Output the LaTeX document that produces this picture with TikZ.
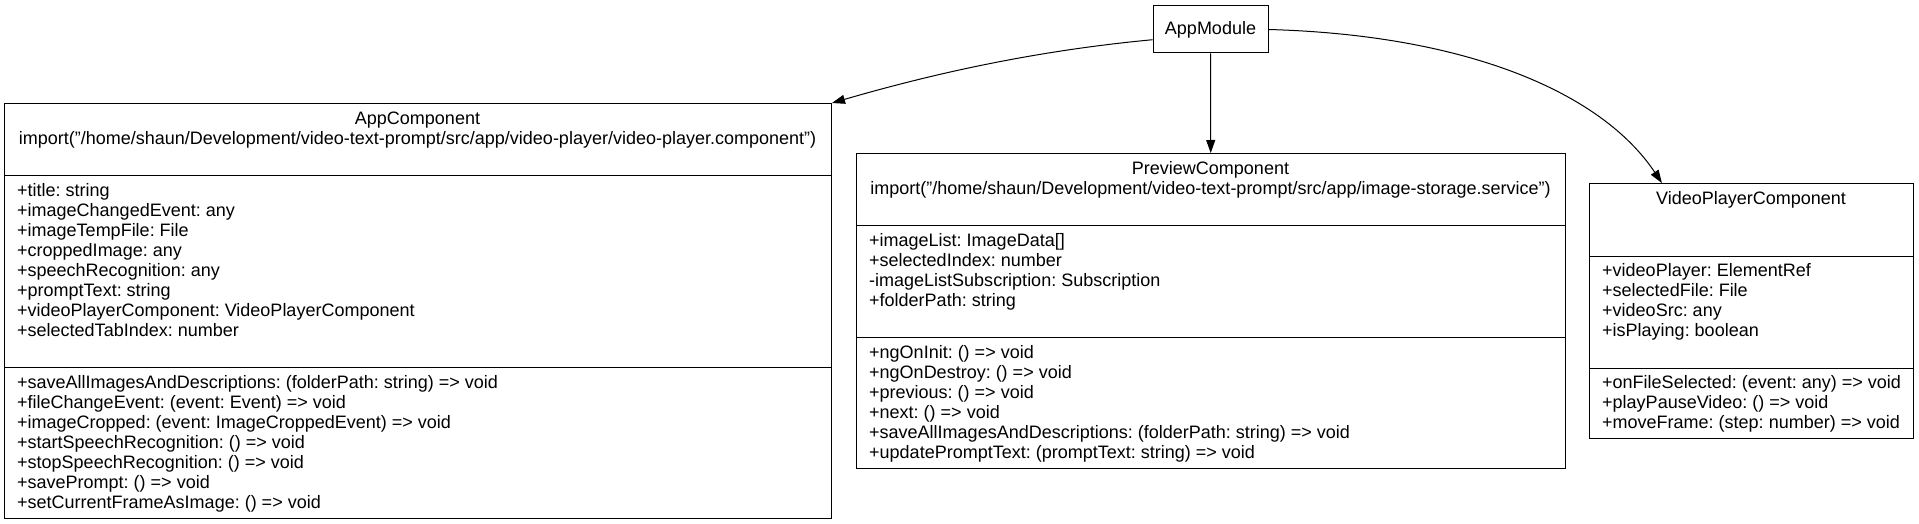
\documentclass[tikz,border=0pt]{standalone}
\usepackage{fontspec}
\setmainfont{Liberation Sans}
\usetikzlibrary{arrows.meta}
\frenchspacing

\tikzset{
  classbox/.style={draw, line width=1pt, anchor=north west, inner sep=0pt},
  header/.style={anchor=north, align=center, inner sep=0pt},
  member/.style={anchor=north west, align=left, inner sep=0pt},
  dep/.style={-{Triangle[length=13pt,width=9pt]}, line width=1pt},
}

\begin{document}
\begin{tikzpicture}[x=1pt, y=-1pt, font=\fontsize{18}{20}\selectfont]
\path[use as bounding box, fill=white] (0,0) rectangle (1919,524);

\node[draw, line width=1pt, minimum width=115pt, minimum height=47pt, inner sep=0pt] (mod) at (1210.5,29.5) {AppModule};

% AppComponent
\node[classbox, minimum width=827pt, minimum height=415pt] (app) at (4,103) {};
\draw[line width=1pt] (4,175) -- (831,175);
\draw[line width=1pt] (4,367) -- (831,367);
\node[header] (appT) at (417.5,110) {\strut AppComponent\\import("/home/shaun/Development/video-text-prompt/src/app/video-player/video-player.component")};
\node[member] (appA) at (17,182) {\strut +title: string\\+imageChangedEvent: any\\+imageTempFile: File\\+croppedImage: any\\+speechRecognition: any\\+promptText: string\\+videoPlayerComponent: VideoPlayerComponent\\+selectedTabIndex: number};
\node[member] (appM) at (17,374) {\strut +saveAllImagesAndDescriptions: (folderPath: string) => void\\+fileChangeEvent: (event: Event) => void\\+imageCropped: (event: ImageCroppedEvent) => void\\+startSpeechRecognition: () => void\\+stopSpeechRecognition: () => void\\+savePrompt: () => void\\+setCurrentFrameAsImage: () => void};

% PreviewComponent
\node[classbox, minimum width=709pt, minimum height=315pt] (prev) at (856,153) {};
\draw[line width=1pt] (856,225) -- (1565,225);
\draw[line width=1pt] (856,337) -- (1565,337);
\node[header] (prevT) at (1210.5,160) {\strut PreviewComponent\\import("/home/shaun/Development/video-text-prompt/src/app/image-storage.service")};
\node[member] (prevA) at (869,232) {\strut +imageList: ImageData[]\\+selectedIndex: number\\-imageListSubscription: Subscription\\+folderPath: string};
\node[member] (prevM) at (869,344) {\strut +ngOnInit: () => void\\+ngOnDestroy: () => void\\+previous: () => void\\+next: () => void\\+saveAllImagesAndDescriptions: (folderPath: string) => void\\+updatePromptText: (promptText: string) => void};

% VideoPlayerComponent
\node[classbox, minimum width=324pt, minimum height=255pt] (vpc) at (1589,183) {};
\draw[line width=1pt] (1589,256) -- (1913,256);
\draw[line width=1pt] (1589,368) -- (1913,368);
\node[header] (vpcT) at (1751,190) {\strut VideoPlayerComponent};
\node[member] (vpcA) at (1602,262) {\strut +videoPlayer: ElementRef\\+selectedFile: File\\+videoSrc: any\\+isPlaying: boolean};
\node[member] (vpcM) at (1602,374) {\strut +onFileSelected: (event: any) => void\\+playPauseVideo: () => void\\+moveFrame: (step: number) => void};

\draw[dep] (mod.190) .. controls (1043,50) and (942,71) .. (app.north east);
\draw[dep] (mod) -- (prev);
\draw[dep] (mod.east) .. controls (1468,35) and (1602,93) .. (vpc.125);
\end{tikzpicture}
\end{document}
